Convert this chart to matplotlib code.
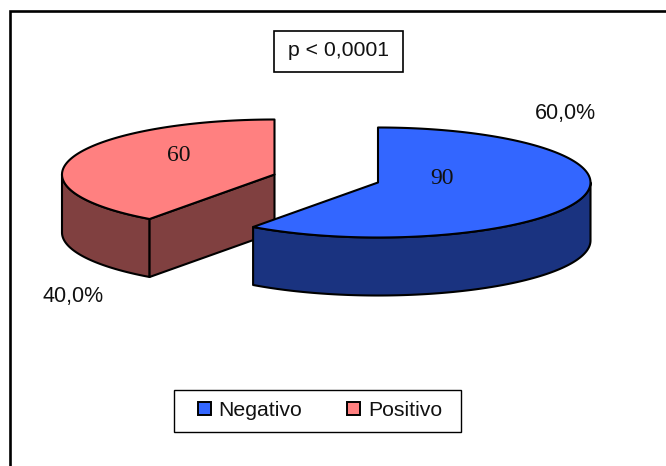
import numpy as np
import matplotlib
matplotlib.use("Agg")
import matplotlib.pyplot as plt
from matplotlib.patches import Polygon, Rectangle

# Chart data
categories = ["Negativo", "Positivo"]
counts = [90, 60]
percent_labels = ["60,0%", "40,0%"]
annotation = "p < 0,0001"

top_colors = ["#3366FF", "#FF8080"]
side_colors = ["#1A3380", "#804040"]

# Pie layout in pixels
RX, RY, DEPTH = 212.5, 55.0, 58.0
centers = [(378.0, 182.5), (274.5, 174.5)]
value_pos = [(442, 178.5), (178.5, 155.5)]
pct_pos = [(565, 113.5), (73, 296.5)]

SANS = "Liberation Sans"
SERIF = "Liberation Serif"
LW = 1.5

fig = plt.figure(figsize=(6.66, 4.66), dpi=100)
ax = fig.add_axes([0, 0, 1, 1])
ax.set_xlim(0, 666)
ax.set_ylim(466, 0)
ax.axis("off")

# Outer chart frame runs off the right and bottom edges
ax.add_patch(Rectangle((10, 10.5), 700, 500, fc="white", ec="black", lw=1.9, zorder=0))


def ring(cx, cy, a0, a1, n=200):
    """Points along the elliptical rim, with angles in degrees measured counter-clockwise."""
    t = np.radians(np.linspace(a0, a1, n))
    return np.column_stack([cx + RX * np.cos(t), cy - RY * np.sin(t)])


def draw_slice(center, start, end, top, side, wall_span, show_cut, z):
    """Draw one extruded slice whose rim runs from start to end."""
    cx, cy = center
    apex = np.array([cx, cy])
    down = np.array([0, DEPTH])
    rim = ring(cx, cy, start, end)

    # Outer wall, only where the rim faces the viewer
    wall = ring(cx, cy, *wall_span)
    ax.add_patch(Polygon(np.vstack([wall, (wall + down)[::-1]]), closed=True,
                         fc=side, ec="black", lw=LW, joinstyle="round", zorder=z))

    # Cut face running from the rim back to the apex
    if show_cut:
        p = rim[0]
        face = np.array([p, apex, apex + down, p + down])
        ax.add_patch(Polygon(face, closed=True, fc=side, ec="black", lw=LW,
                             joinstyle="round", zorder=z))

    ax.add_patch(Polygon(np.vstack([apex, rim]), closed=True, fc=top, ec="black",
                         lw=LW, joinstyle="round", zorder=z + 0.1))


# Slice angles come from the counts, starting at twelve o'clock and going clockwise
total = sum(counts)
sweep = [c / total * 360 for c in counts]
split = 90 - sweep[0]

draw_slice(centers[1], split, split - sweep[1], top_colors[1], side_colors[1],
           (-180, split), True, 2)
draw_slice(centers[0], 90, split, top_colors[0], side_colors[0],
           (split, 0), False, 3)

for (x, y), c in zip(value_pos, counts):
    ax.text(x, y, str(c), family=SERIF, fontsize=17, ha="center", va="center",
            color="#111111", zorder=5)
for (x, y), s in zip(pct_pos, percent_labels):
    ax.text(x, y, s, family=SANS, fontsize=15.5, ha="center", va="center",
            color="#111111", zorder=5)

# Significance note
ax.add_patch(Rectangle((274, 31), 129, 41, fc="white", ec="black", lw=1.2, zorder=4))
ax.text(338.5, 50.5, annotation, family=SANS, fontsize=15.3, ha="center", va="center",
        color="#111111", zorder=5)

# Legend box with the entries centred inside it
ax.add_patch(Rectangle((174, 390), 287, 42, fc="white", ec="black", lw=1.0, zorder=4))
handles = [Rectangle((0, 0), 1, 1, fc=c, ec="black", lw=1.4) for c in top_colors]
leg = ax.legend(handles, categories, ncols=2, loc="center",
                bbox_to_anchor=(320, 410.5), bbox_transform=ax.transData,
                prop={"family": SANS, "size": 15.3}, frameon=False,
                handlelength=0.6, handleheight=0.6,
                handletextpad=0.38, columnspacing=2.1, borderpad=0, borderaxespad=0)
leg.set_zorder(6)
for t in leg.get_texts():
    t.set_color("#111111")

fig.savefig("out.png", dpi=100)
